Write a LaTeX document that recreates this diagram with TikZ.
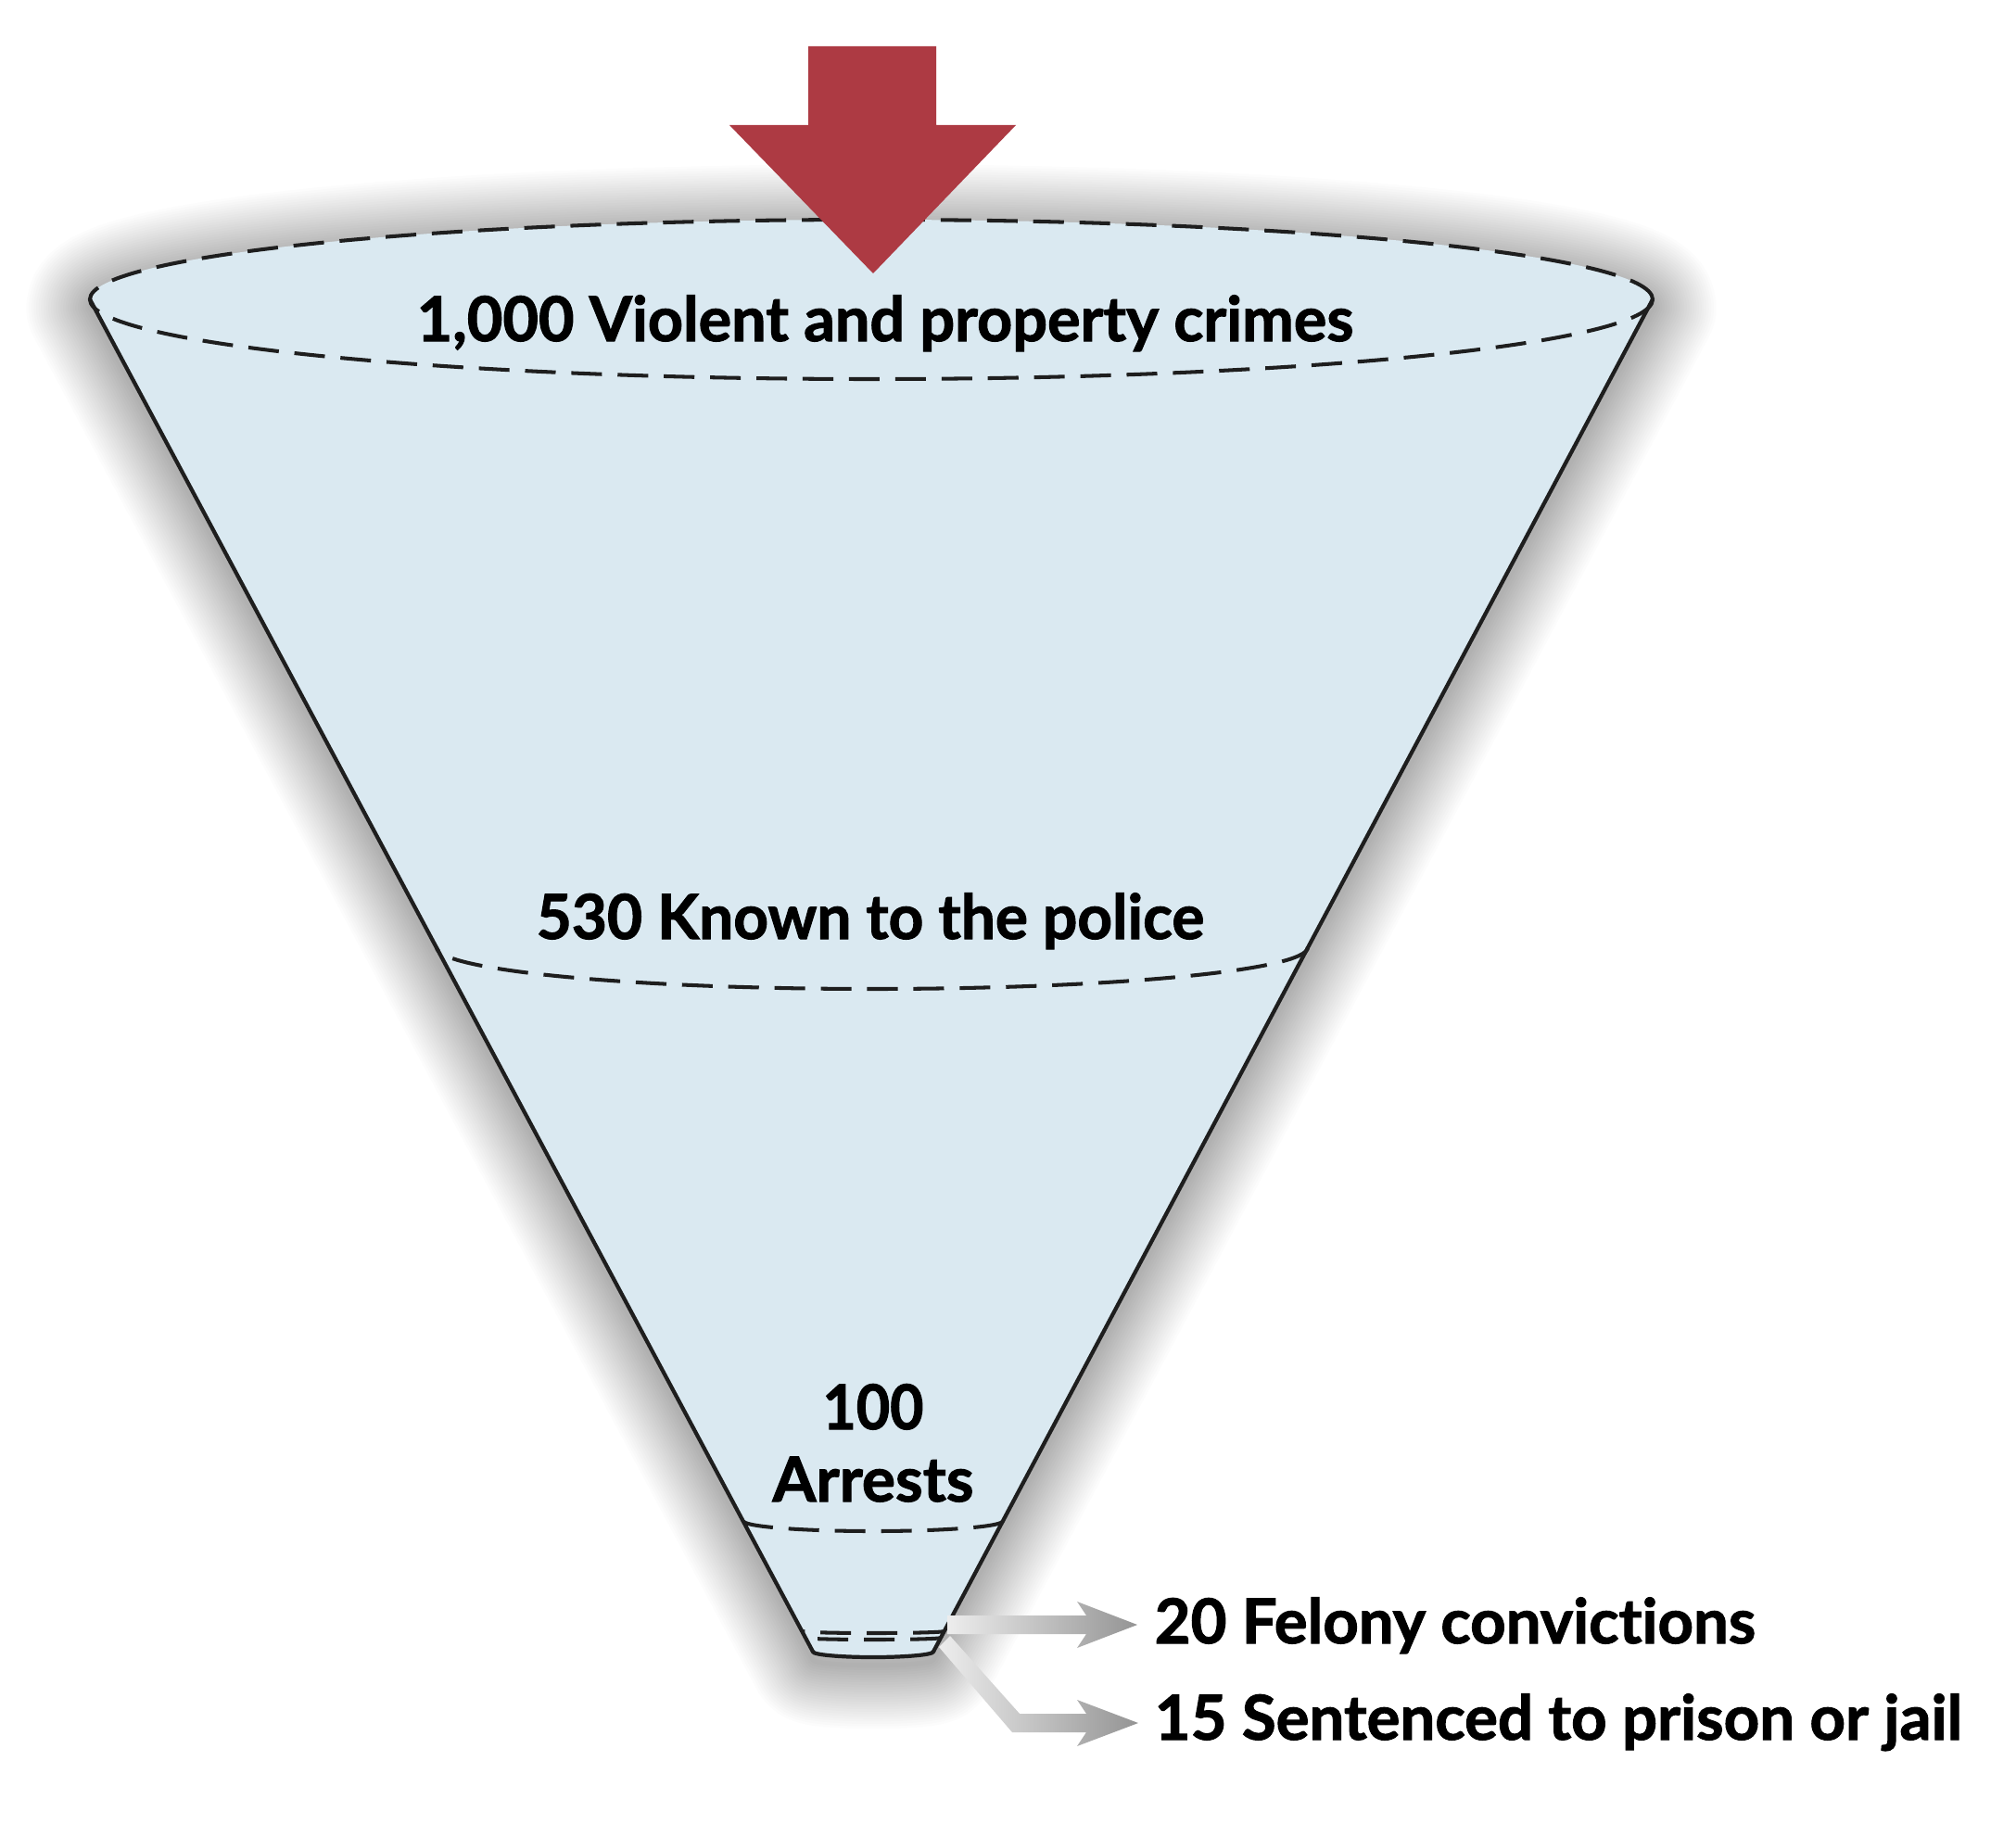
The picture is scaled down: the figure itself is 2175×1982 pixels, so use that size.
\documentclass[tikz,border=0pt]{standalone}
\usepackage{graphicx}
\usepackage{fontspec}
\newfontfamily\lab[Ligatures={NoCommon}, BoldFeatures={FakeBold=1.6}]{Lato}
\definecolor{conefill}{RGB}{218,233,241}
\definecolor{redarrow}{RGB}{173,58,67}
\definecolor{edge}{RGB}{30,30,30}
\newlength\fitlen
\newcommand\fitw[2]{\settowidth\fitlen{#2}\pgfmathsetmacro\fitr{#1/\fitlen}\scalebox{\fitr}[1]{#2}}
\tikzset{
  lbl/.style={inner sep=0pt, font=\lab\bfseries\fontsize{19}{23}\selectfont, text=black},
  side/.style={draw=edge, line width=1.2pt, line cap=round},
  rim/.style={draw=edge, line width=1.15pt, dash pattern=on 9.4pt off 4.8pt},
  grayarrow/.style={left color=black!7, right color=black!42, draw=none},
}
\begin{document}
\begin{tikzpicture}[x=0.01cm,y=0.01cm]
\fill[white] (0,0) rectangle (2175,-1982);
\useasboundingbox (0,0) rectangle (2175,-1982);
% soft shadow
\foreach \i in {1,...,26}{
  \draw[line width=\i*1.5pt, draw=black, draw opacity=0.012, line join=round, yshift=-2.5pt]
    (97,-323) arc[start angle=180,end angle=0,x radius=843,y radius=86]
    -- (1007,-1782) arc[start angle=0,end angle=-180,x radius=65,y radius=6] -- cycle;
}
% cone body
\fill[conefill] (97,-323) arc[start angle=180,end angle=0,x radius=843,y radius=86]
    -- (1007,-1782) arc[start angle=0,end angle=-180,x radius=65,y radius=6] -- cycle;
\coordinate (L) at (97,-323);
\coordinate (R) at (1783,-323);
\coordinate (BL) at (877,-1782);
\coordinate (BR) at (1007,-1782);
\draw[side] (L) -- (BL);
\draw[side] (R) -- (BR);
\draw[side] (BR) arc[start angle=0,end angle=-180,x radius=65,y radius=6];
% top rim
\draw[rim] (940,-323) ellipse [x radius=843, y radius=86];
% level rims
\draw[rim] (1411,-1022) arc[start angle=0,end angle=-180,x radius=470,y radius=45];
\draw[rim] (1082,-1641) arc[start angle=0,end angle=-180,x radius=140,y radius=11];
\draw[rim] (1018,-1760) arc[start angle=0,end angle=-180,x radius=76,y radius=2];
\draw[rim] (1015,-1767) arc[start angle=0,end angle=-180,x radius=73.5,y radius=2];
% red arrow
\fill[redarrow] (872,-50) -- (1010,-50) -- (1010,-135) -- (1096,-135) -- (942,-295)
   -- (787,-135) -- (872,-135) -- cycle;
% labels
\node[lbl, anchor=base west] (crimes) at (449,-368) {\fitw{287.4pt}{1,000 Violent and property crimes}};
\node[lbl, anchor=base] (known) at (939,-1013) {\fitw{204.9pt}{530 Known to the police}};
\node[lbl, anchor=base] (hundred) at (942,-1542) {\fitw{31pt}{100}};
\node[lbl, anchor=base] (arrests) at (942,-1620) {\fitw{61.7pt}{Arrests}};
\node[lbl, anchor=base west] (felony) at (1245,-1773) {\fitw{184.4pt}{20 Felony convictions}};
\node[lbl, anchor=base west] (sentenced) at (1245,-1877) {\fitw{247.8pt}{15 Sentenced to prison or jail}};
% gray arrows
\shade[grayarrow] (1022,-1743) -- (1172,-1743) -- (1162,-1728) -- (1227,-1753)
   -- (1162,-1778) -- (1172,-1763) -- (1022,-1763) -- cycle;
\shade[grayarrow] (1025,-1765) -- (1100,-1849) -- (1172,-1849) -- (1162,-1834) -- (1228,-1859)
   -- (1162,-1884) -- (1172,-1869) -- (1092,-1869) -- (1013,-1777) -- cycle;
\end{tikzpicture}
\end{document}
